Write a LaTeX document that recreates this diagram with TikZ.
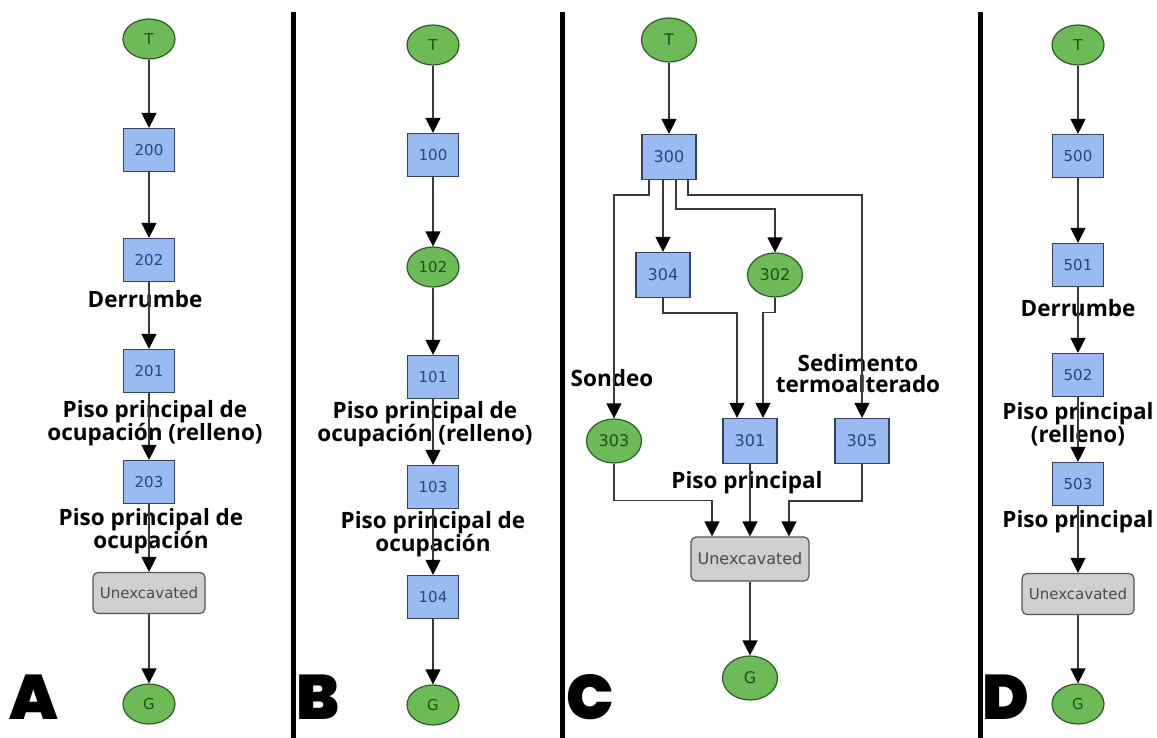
\documentclass[tikz,border=0pt]{standalone}
\usepackage{fontspec}
\usetikzlibrary{shapes.geometric,arrows.meta,calc}
\newfontfamily\labfam{Open Sans}
\newfontfamily\nodefam{DejaVu Sans}
\IfFontExistsTF{Poppins Black}
 {\newfontfamily\letterfam{Poppins Black}\newcommand\letterfont{\letterfam}}
 {\newfontfamily\letterfam{Poppins}[BoldFeatures={FakeBold=2}]\newcommand\letterfont{\letterfam\bfseries}}
\definecolor{boxblue}{HTML}{99BBF2}
\definecolor{boxline}{HTML}{34425C}
\definecolor{boxtext}{HTML}{23438A}
\definecolor{placegreen}{HTML}{6DBB57}
\definecolor{placeline}{HTML}{2F5A2A}
\definecolor{placetext}{HTML}{1E4F1A}
\definecolor{unexgray}{HTML}{CFCFCF}
\definecolor{unexline}{HTML}{555555}
\definecolor{unextext}{HTML}{4A4A4A}
\definecolor{edgegray}{HTML}{3A3A3A}
\tikzset{
  pbox/.style={rectangle, draw=boxline, fill=boxblue, line width=1.2pt,
    minimum width=51pt, minimum height=43pt, inner sep=0pt,
    text=boxtext, font=\nodefam\fontsize{15}{15}\selectfont},
  pplace/.style={ellipse, draw=placeline, fill=placegreen, line width=1.2pt,
    minimum width=52pt, minimum height=40pt, inner sep=0pt,
    text=placetext, font=\nodefam\fontsize{15}{15}\selectfont},
  punex/.style={rectangle, rounded corners=5pt, draw=unexline, fill=unexgray, line width=1.2pt,
    minimum width=112pt, minimum height=41pt, inner sep=0pt,
    text=unextext, font=\nodefam\fontsize{15}{15}\selectfont},
  pbig/.style={minimum width=54pt, minimum height=45pt, font=\nodefam\fontsize{16}{16}\selectfont},
  pbigp/.style={minimum width=55pt, minimum height=44pt, font=\nodefam\fontsize{16}{16}\selectfont},
  pbigu/.style={minimum width=118pt, minimum height=44pt, font=\nodefam\fontsize{16}{16}\selectfont},
  plab/.style={align=center, inner sep=0pt, text=black,
    font=\labfam\bfseries\fontsize{22.5}{21}\selectfont},
  parr/.style={draw=edgegray, line width=1.3pt,
    -{Triangle[width=15pt,length=15pt,color=black]}},
  pletter/.style={anchor=base west, inner sep=0pt, text=black,
    font=\letterfont\fontsize{63}{63}\selectfont},
  pdiv/.style={line width=5pt, draw=black}
}
\begin{document}
\begin{tikzpicture}[x=1pt,y=-1pt]
\path[use as bounding box, fill=white] (0,0) rectangle (1157,738);
% dividers
\coordinate (d1t) at (293,12); \coordinate (d1b) at (293,738);
\coordinate (d2t) at (562,12); \coordinate (d2b) at (562,738);
\coordinate (d3t) at (980,12); \coordinate (d3b) at (980,738);
\draw[pdiv] (d1t) -- (d1b);
\draw[pdiv] (d2t) -- (d2b);
\draw[pdiv] (d3t) -- (d3b);

% ---------- Panel A ----------
\node[pplace] (aT) at (149,39) {T};
\node[pbox] (a200) at (149,150) {200};
\node[pbox] (a202) at (149,260) {202};
\node[plab] (aL1) at (145,299) {Derrumbe};
\node[pbox] (a201) at (149,371) {201};
\node[plab] (aL2) at (155,423) {Piso principal de\\ocupación (relleno)};
\node[pbox] (a203) at (149,482) {203};
\node[plab] (aL3) at (151,531) {Piso principal de\\ocupación};
\node[punex] (aU) at (149,593) {Unexcavated};
\node[pplace] (aG) at (149,704) {G};
\node[pletter] (aLetter) at (9,719) {A};
\draw[parr] (aT) -- (a200);
\draw[parr] (a200) -- (a202);
\draw[parr] (a202) -- (a201);
\draw[parr] (a201) -- (a203);
\draw[parr] (a203) -- (aU);
\draw[parr] (aU) -- (aG);

% ---------- Panel B ----------
\node[pplace] (bT) at (433,45) {T};
\node[pbox] (b100) at (433,155) {100};
\node[pplace] (b102) at (433,267) {102};
\node[pbox] (b101) at (433,377) {101};
\node[plab] (bL1) at (425,424) {Piso principal de\\ocupación (relleno)};
\node[pbox] (b103) at (433,487) {103};
\node[plab] (bL2) at (433,534) {Piso principal de\\ocupación};
\node[pbox] (b104) at (433,597) {104};
\node[pplace] (bG) at (433,705) {G};
\node[pletter] (bLetter) at (296,719) {B};
\draw[parr] (bT) -- (b100);
\draw[parr] (b100) -- (b102);
\draw[parr] (b102) -- (b101);
\draw[parr] (b101) -- (b103);
\draw[parr] (b103) -- (b104);
\draw[parr] (b104) -- (bG);

% ---------- Panel C ----------
\node[pplace,pbigp] (cT) at (669,40) {T};
\node[pbox,pbig] (c300) at (669,157) {300};
\node[pbox,pbig] (c304) at (663,275) {304};
\node[pplace,pbigp] (c302) at (775,275) {302};
\node[pplace,pbigp] (c303) at (614,441) {303};
\node[pbox,pbig] (c301) at (750,441) {301};
\node[pbox,pbig] (c305) at (862,441) {305};
\node[punex,pbigu] (cU) at (750,559) {Unexcavated};
\node[pplace,pbigp] (cG) at (750,678) {G};
\node[plab] (cL1) at (612,378) {Sondeo};
\node[plab] (cL2) at (858,374) {Sedimento\\termoalterado};
\node[plab] (cL3) at (747,483) {Piso principal};
\node[pletter] (cLetter) at (566,719) {C};
\draw[parr] (cT) -- (c300);
\draw[parr] ([xshift=-20pt]c300.south) -- ++(0,15) -| (c303.north);
\draw[parr] ([xshift=-6pt]c300.south) -- (c304.north);
\draw[parr] ([xshift=7pt]c300.south) -- ++(0,29) -| (c302.north);
\draw[parr] ([xshift=19pt]c300.south) -- ++(0,15) -| (c305.north);
\draw[parr] (c304.south) -- ++(0,15) -| ([xshift=-13pt]c301.north);
\draw[parr] (c302.south) -- ++(0,15) -| ([xshift=13pt]c301.north);
\draw[parr] (c303.south) -- ++(0,37) -| ([xshift=-38pt]cU.north);
\draw[parr] (c301) -- (cU);
\draw[parr] (c305.south) -- ++(0,37) -| ([xshift=39pt]cU.north);
\draw[parr] (cU) -- (cG);

% ---------- Panel D ----------
\node[pplace] (dT) at (1078,45) {T};
\node[pbox] (d500) at (1078,156) {500};
\node[pbox] (d501) at (1078,265) {501};
\node[plab] (dL1) at (1078,308) {Derrumbe};
\node[pbox] (d502) at (1078,375) {502};
\node[plab] (dL2) at (1078,424) {Piso principal\\(relleno)};
\node[pbox] (d503) at (1078,484) {503};
\node[plab] (dL3) at (1078,522) {Piso principal};
\node[punex] (dU) at (1078,594) {Unexcavated};
\node[pplace] (dG) at (1078,704) {G};
\node[pletter] (dLetter) at (982,719) {D};
\draw[parr] (dT) -- (d500);
\draw[parr] (d500) -- (d501);
\draw[parr] (d501) -- (d502);
\draw[parr] (d502) -- (d503);
\draw[parr] (d503) -- (dU);
\draw[parr] (dU) -- (dG);
\end{tikzpicture}
\end{document}
